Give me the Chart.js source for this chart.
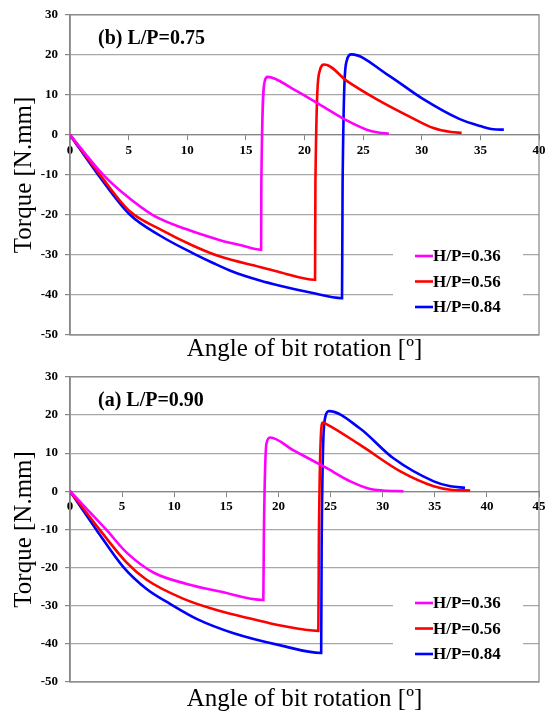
<!DOCTYPE html>
<html>
<head>
<meta charset="utf-8">
<script src="https://cdn.jsdelivr.net/npm/chart.js@4.4.1/dist/chart.umd.min.js"></script>
<style>
    html, body { margin: 0; padding: 0; background: #ffffff; }
    #wrap { position: relative; width: 553px; height: 713px; overflow: hidden; }
    canvas { position: absolute; left: 0; }
    #chart-b { top: 0; }
    #chart-a { top: 362px; }
</style>
</head>
<body>
<div id="wrap">
    <canvas id="chart-b" width="553" height="362"></canvas>
    <canvas id="chart-a" width="553" height="351"></canvas>
</div>
<script>
// series labels / panel labels
const seriesLabels = ['H/P=0.36', 'H/P=0.56', 'H/P=0.84'];
const seriesColors = ['#ff00ff', '#ff0000', '#0000ff'];
const panelLabels = ['(b) L/P=0.75', '(a) L/P=0.90'];
const xMaxes = [40, 45];
const yTicks = [-50, -40, -30, -20, -10, 0, 10, 20, 30];

// (b) L/P=0.75 - angle [deg] / torque [N.mm]
const angleB36 = [0, 2.84, 4.83, 7.1, 9.95, 12.8, 14.6, 16.3, 16.32, 16.62, 16.85, 19.0, 21.9, 23.6, 25.3, 26.3, 27.2];
const torqueB36 = [0, -10, -15.3, -20.1, -23.6, -26.3, -27.6, -28.7, -12, 13.5, 14.5, 11.5, 6.5, 3.6, 1.3, 0.6, 0.3];
const angleB56 = [0, 2.56, 5.1, 7.7, 10.5, 12.8, 16.2, 17.9, 20.9, 20.93, 21.3, 21.7, 23.6, 26.1, 29.0, 31.0, 32.5, 33.4];
const torqueB56 = [0, -10, -19.1, -23.6, -27.7, -30.4, -33.0, -34.3, -36.2, -12, 16, 17.6, 13.5, 9.0, 4.5, 1.7, 0.7, 0.5];
const angleB84 = [0, 2.41, 5.1, 7.7, 10.5, 12.2, 13.9, 16.2, 17.9, 20.5, 23.2, 23.25, 23.6, 24.0, 27.0, 30.1, 33.2, 35.0, 36.1, 37.0];
const torqueB84 = [0, -10, -19.9, -25.2, -29.6, -32.0, -34.2, -36.4, -37.7, -39.4, -40.8, -12, 18.5, 20.1, 15.2, 9.0, 4.0, 2.2, 1.4, 1.3];

// (a) L/P=0.90
const angleA36 = [0, 3.52, 5.44, 8.0, 11.2, 14.4, 18.55, 18.6, 18.85, 19.2, 21.4, 24.6, 26.9, 28.8, 30.0, 32.0];
const torqueA36 = [0, -10.2, -16.1, -21.3, -24.3, -26.3, -28.5, -12, 12.5, 14.1, 10.8, 6.1, 2.6, 0.6, 0.2, 0];
const angleA56 = [0, 2.88, 5.44, 7.35, 10.9, 14.4, 17.5, 20.2, 23.83, 23.88, 24.25, 24.6, 27.8, 31.7, 34.9, 36.5, 38.4];
const torqueA56 = [0, -10.2, -18.7, -23.2, -28.2, -31.4, -33.5, -35.2, -36.6, -12, 18.0, 17.6, 12.2, 5.2, 1.3, 0.4, 0.2];
const angleA84 = [0, 2.56, 5.1, 7.35, 9.6, 12.2, 15.7, 20.2, 24.1, 24.15, 24.5, 24.85, 27.8, 31.0, 34.9, 36.5, 37.9];
const torqueA84 = [0, -10.2, -19.8, -25.6, -29.5, -33.5, -37.2, -40.4, -42.4, -12, 19.5, 21.0, 16.5, 8.7, 2.6, 1.3, 0.9];

const FONT = "'Liberation Serif', 'Times New Roman', serif";

function toPoints(xs, ys) {
    return xs.map((x, i) => ({ x: x, y: ys[i] }));
}

function makeDatasets(pairs) {
    return pairs.map((p, i) => ({
        label: seriesLabels[i],
        data: toPoints(p[0], p[1]),
        borderColor: seriesColors[i],
        backgroundColor: seriesColors[i],
        borderWidth: 2.6,
        pointRadius: 0,
        showLine: true,
        fill: false,
        cubicInterpolationMode: 'monotone'
    }));
}

// plot box + panel label + legend inside plot area
const framePlugin = {
    id: 'frame',
    beforeDatasetsDraw(chart) {
        const a = chart.chartArea;
        const ctx = chart.ctx;
        ctx.save();
        ctx.strokeStyle = '#868686';
        ctx.lineWidth = 1.2;
        ctx.strokeRect(a.left, a.top, a.right - a.left, a.bottom - a.top);
        ctx.restore();
    },
    afterDatasetsDraw(chart, args, opts) {
        const a = chart.chartArea;
        const ctx = chart.ctx;
        ctx.save();
        // panel label
        ctx.fillStyle = '#000';
        ctx.font = 'bold 20px ' + FONT;
        ctx.textBaseline = 'alphabetic';
        ctx.textAlign = 'left';
        ctx.fillText(opts.label, a.left + 28, a.top + 29);

        // legend
        const rows = chart.data.datasets.length;
        const gap = 25.5;
        const lastY = a.bottom - 28;
        const firstY = lastY - gap * (rows - 1);
        ctx.fillStyle = '#ffffff';
        ctx.fillRect(a.right - 146, firstY - 14, 130, lastY - firstY + 28);
        ctx.font = 'bold 17px ' + FONT;
        ctx.textBaseline = 'middle';
        chart.data.datasets.forEach((ds, i) => {
            const y = firstY + gap * i;
            ctx.strokeStyle = ds.borderColor;
            ctx.lineWidth = 2.6;
            ctx.beginPath();
            ctx.moveTo(a.right - 124, y);
            ctx.lineTo(a.right - 106, y);
            ctx.stroke();
            ctx.fillStyle = '#000';
            ctx.fillText(ds.label, a.right - 106, y + 1);
        });
        ctx.restore();
    }
};

function makeChart(canvasId, idx, datasets, padTop, titlePad) {
    const xMax = xMaxes[idx];
    return new Chart(document.getElementById(canvasId), {
        type: 'scatter',
        data: { datasets: datasets },
        plugins: [framePlugin],
        options: {
            responsive: false,
            animation: false,
            devicePixelRatio: 1,
            layout: { padding: { top: padTop, right: 14, bottom: 0, left: 0 } },
            plugins: {
                legend: { display: false },
                tooltip: { enabled: false },
                frame: { label: panelLabels[idx] }
            },
            scales: {
                x: {
                    type: 'linear',
                    min: 0,
                    max: xMax,
                    position: { y: 0 },
                    afterBuildTicks: (s) => { s.ticks = s.ticks.filter(t => t.value % 5 === 0); },
                    ticks: {
                        stepSize: 5,
                        color: '#000',
                        padding: 3,
                        maxRotation: 0,
                        font: { family: FONT, size: 13, weight: 'bold' }
                    },
                    grid: {
                        drawOnChartArea: false,
                        drawTicks: true,
                        tickLength: 5,
                        tickColor: '#868686'
                    },
                    border: { color: '#868686', width: 1.2 }
                },
                x2: {
                    type: 'linear',
                    position: 'bottom',
                    min: 0,
                    max: xMax,
                    ticks: { display: false },
                    grid: { display: false, drawTicks: false },
                    border: { display: false },
                    title: {
                        display: true,
                        text: 'Angle of bit rotation [º]',
                        color: '#000',
                        font: { family: FONT, size: 25, lineHeight: 1 },
                        padding: titlePad
                    }
                },
                y: {
                    type: 'linear',
                    min: yTicks[0],
                    max: yTicks[yTicks.length - 1],
                    afterFit: (s) => { s.width = 70; },
                    afterBuildTicks: (s) => { s.ticks = yTicks.map(v => ({ value: v })); },
                    ticks: {
                        color: '#000',
                        padding: 7,
                        font: { family: FONT, size: 13, weight: 'bold' }
                    },
                    grid: {
                        color: '#a8a8a8',
                        lineWidth: 1.2,
                        tickLength: 5,
                        tickColor: '#868686'
                    },
                    border: { color: '#868686', width: 1.6 },
                    title: {
                        display: true,
                        text: 'Torque [N.mm]',
                        color: '#000',
                        font: { family: FONT, size: 25, lineHeight: 1.2 },
                        padding: { top: 9, bottom: 0 }
                    }
                }
            }
        }
    });
}

makeChart('chart-b', 0, makeDatasets([
    [angleB36, torqueB36],
    [angleB56, torqueB56],
    [angleB84, torqueB84]
]), 12, { top: 2, bottom: 0 });

makeChart('chart-a', 1, makeDatasets([
    [angleA36, torqueA36],
    [angleA56, torqueA56],
    [angleA84, torqueA84]
]), 13, { top: 4.5, bottom: 1.5 });
</script>
</body>
</html>
